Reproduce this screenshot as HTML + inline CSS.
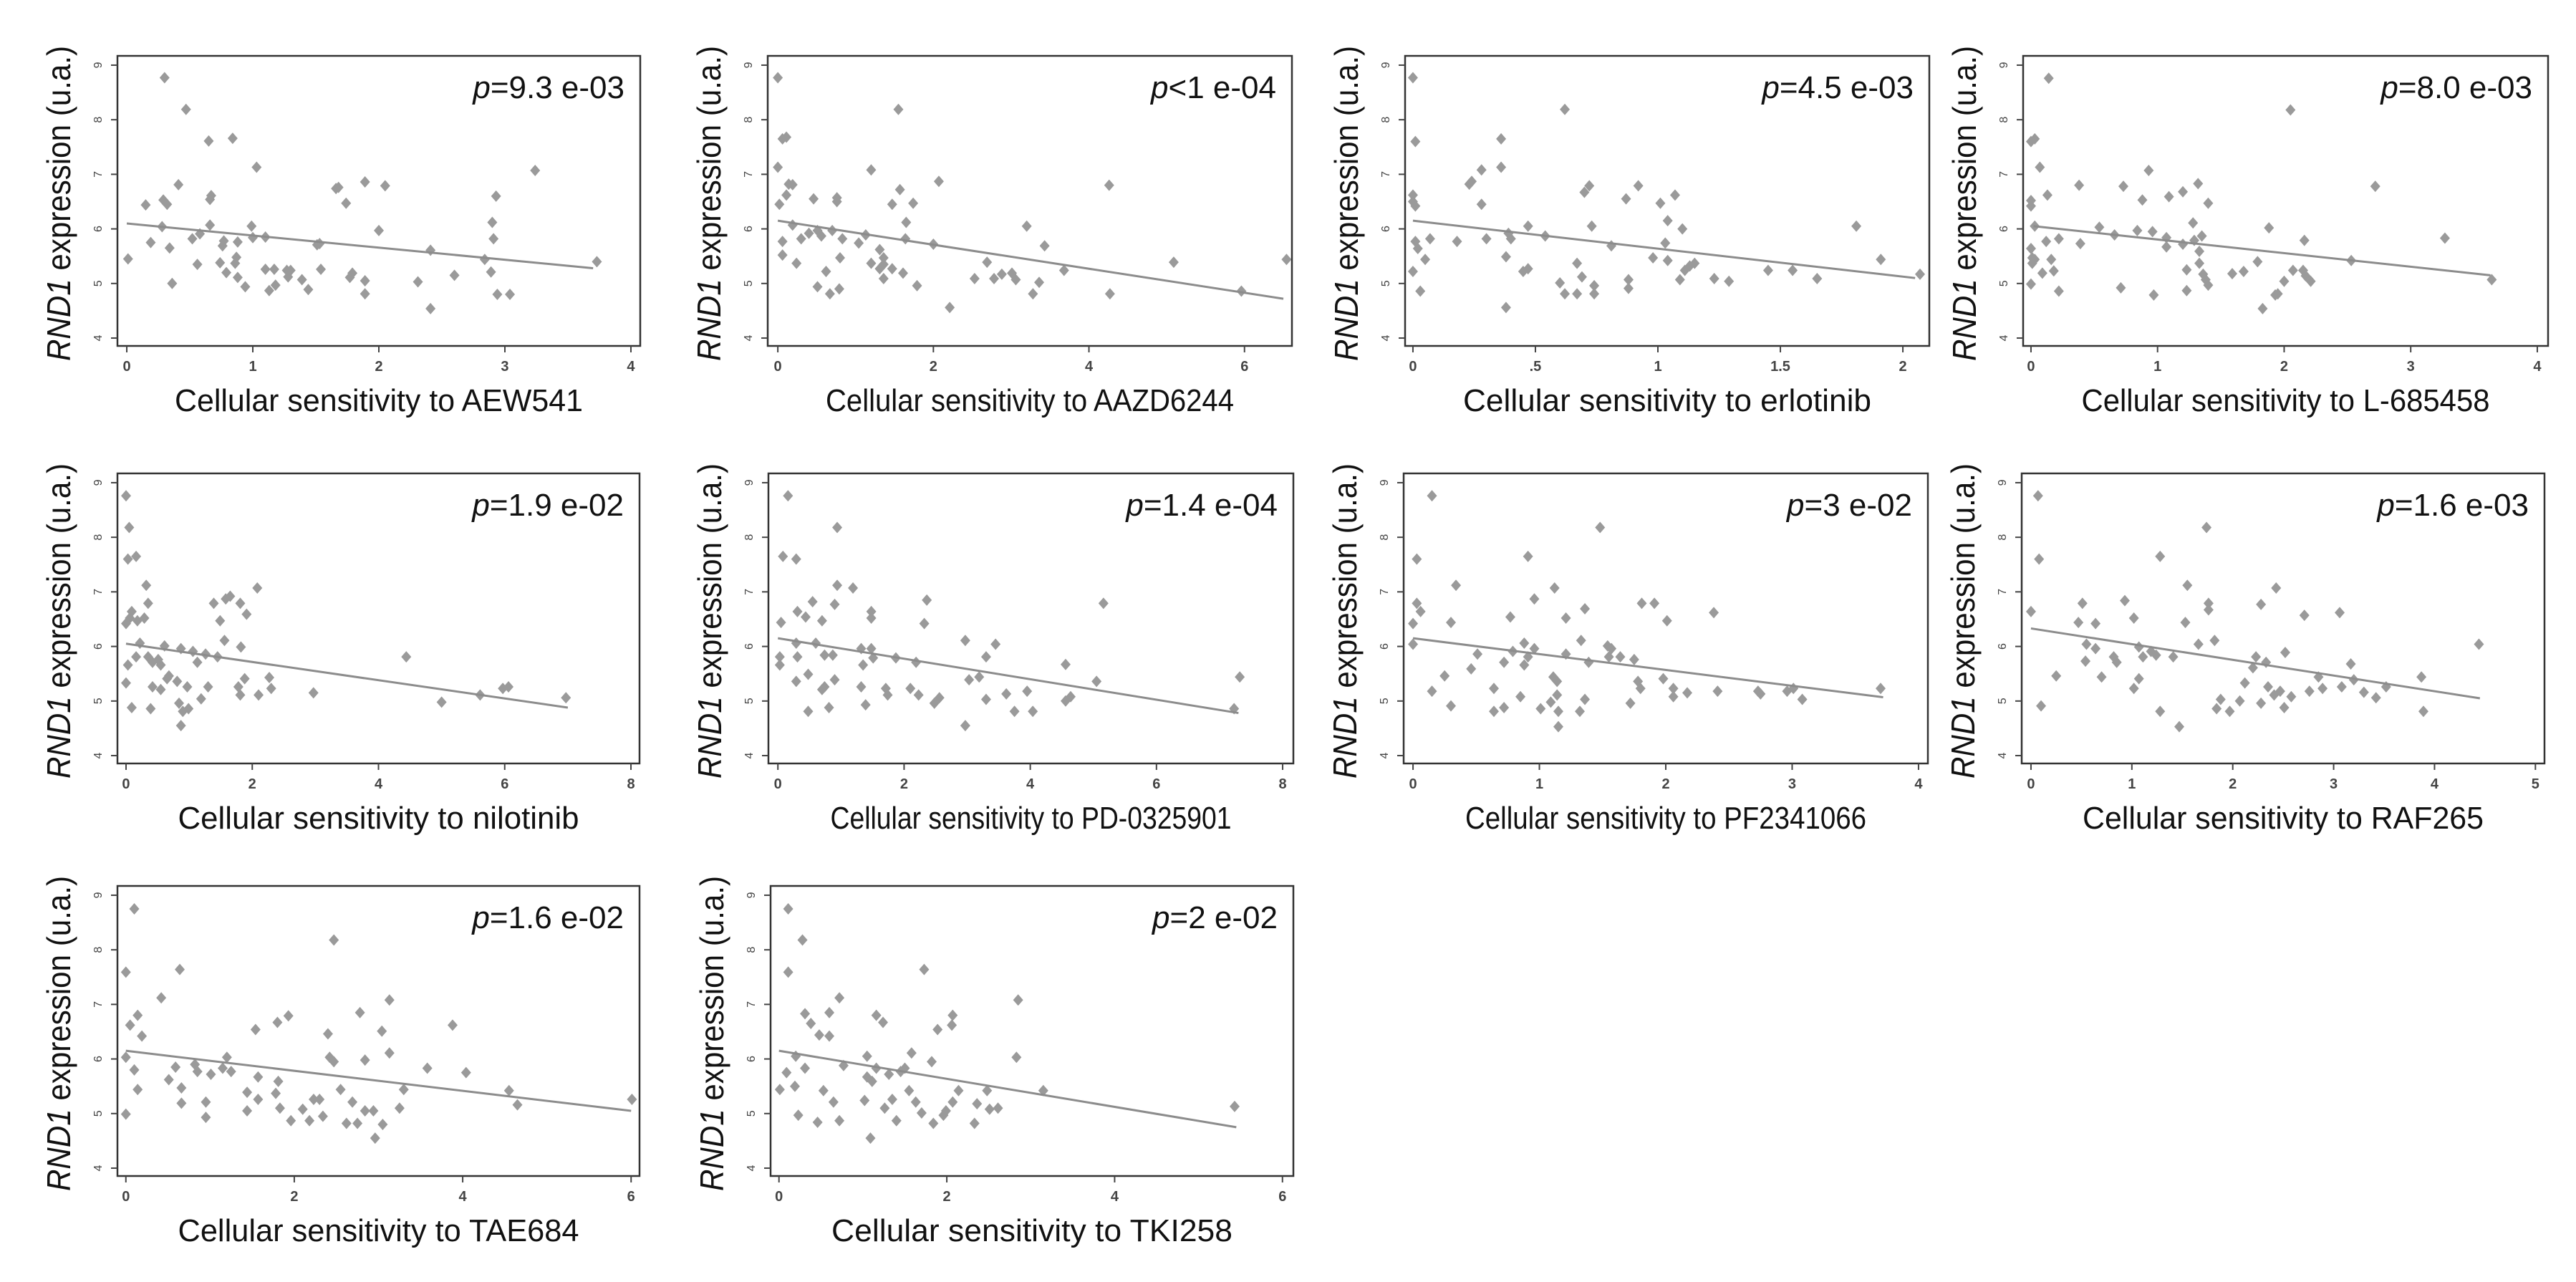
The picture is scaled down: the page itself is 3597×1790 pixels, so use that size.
<!DOCTYPE html>
<html><head><meta charset="utf-8"><style>
html,body{margin:0;padding:0;background:#fff;}
svg{display:block;font-family:"Liberation Sans",Arial,sans-serif;}
</style></head><body>
<svg id="fig" width="3597" height="1790" viewBox="0 0 3597 1790" xmlns="http://www.w3.org/2000/svg"></svg>
<script>
// ---- data ----
const drugNames = ["AEW541","AAZD6244","erlotinib","L-685458","nilotinib","PD-0325901","PF2341066","RAF265","TAE684","TKI258"];
const pLabels = ["=9.3 e-03","<1 e-04","=4.5 e-03","=8.0 e-03","=1.9 e-02","=1.4 e-04","=3 e-02","=1.6 e-03","=1.6 e-02","=2 e-02"];
const yTicks = [4,5,6,7,8,9];
const xTicks0 = [0,1,2,3,4];
const xTicks1 = [0,2,4,6];
const xTicks2 = [0,0.5,1,1.5,2];
const xTickLabels2 = ["0",".5","1","1.5","2"];
const xTicks4 = [0,2,4,6,8];
const xTicks7 = [0,1,2,3,4,5];
const fitStartX = [0,0,0,0.02,0,0,0,0,0,0];
const fitStartY = [6.1,6.15,6.15,6.05,6.05,6.15,6.15,6.33,6.15,6.15];
const fitEndX = [3.7,6.5,2.05,3.63,7,7.3,3.72,4.45,6,5.45];
const fitEndY = [5.28,4.72,5.1,5.15,4.88,4.78,5.07,5.05,5.05,4.75];
const xs1=[0.01,0.15,0.19,0.28,0.30,0.29,0.32,0.34,0.36,0.41,0.47,0.52,0.56,0.58,0.65,0.66,0.66,0.67,0.74,0.76,0.77,0.79,0.84,0.86,0.87,0.88,0.88,0.94,0.99,1.00,1.03,1.10,1.10,1.13,1.17,1.18,1.27,1.28,1.30,1.39,1.44,1.54,1.53,1.66,1.68,1.74,1.77,1.79,1.89,1.89,1.89,2.00,2.05,2.31,2.41,2.41,2.60,2.84,2.89,2.90,2.91,2.93,2.94,3.04,3.24,3.73,1.51];
const ys1=[5.45,6.44,5.75,6.04,8.77,6.53,6.45,5.65,5.00,6.81,8.19,5.82,5.35,5.91,7.61,6.07,6.54,6.61,5.38,5.69,5.78,5.20,7.66,5.37,5.48,5.76,5.11,4.94,6.05,5.84,7.13,5.85,5.26,4.87,5.26,4.97,5.24,5.12,5.24,5.07,4.89,5.26,5.73,6.74,6.76,6.47,5.11,5.19,6.86,5.05,4.81,5.97,6.79,5.03,5.61,4.54,5.15,5.44,5.21,6.12,5.82,6.60,4.80,4.80,7.07,5.40,5.71];
const xs2=[0,0.06,0.11,0,0.14,0.19,0.11,0.02,0.46,0.76,0.76,0.19,0.06,0.06,0.30,0.40,0.51,0.56,0.70,0.83,1.04,1.13,1.20,1.31,1.36,1.31,1.47,1.36,1.47,1.57,1.55,1.65,1.64,1.74,1.61,1.79,0.80,0.62,0.51,0.67,0.79,0.24,2.0,2.07,2.21,2.53,2.69,2.78,2.88,3.01,3.06,3.20,3.28,3.36,3.43,3.68,4.26,4.27,5.09,5.96,6.54,1.36,1.20];
const ys2=[8.77,7.65,7.68,7.13,6.82,6.81,6.62,6.45,6.55,6.57,6.50,6.07,5.77,5.52,5.82,5.92,5.97,5.87,5.97,5.82,5.74,5.89,7.08,5.62,5.47,5.27,5.27,5.09,6.45,6.72,8.19,6.12,5.82,6.47,5.19,4.96,5.47,5.22,4.94,4.81,4.90,5.37,5.72,6.87,4.56,5.09,5.39,5.09,5.17,5.19,5.07,6.05,4.81,5.02,5.69,5.24,6.80,4.81,5.39,4.86,5.44,5.35,5.37];
const xs3=[0,0.01,0,0,0.01,0.01,0.02,0,0.03,0.05,0.07,0.18,0.23,0.24,0.28,0.28,0.30,0.36,0.36,0.38,0.38,0.39,0.40,0.45,0.47,0.47,0.54,0.60,0.62,0.62,0.67,0.67,0.69,0.70,0.72,0.73,0.74,0.74,0.81,0.87,0.88,0.88,0.92,0.98,1.01,1.04,1.03,1.04,1.07,1.1,1.09,1.11,1.13,1.15,1.23,1.29,1.45,1.55,1.65,1.81,1.91,2.07];
const ys3=[8.77,7.60,6.62,6.50,6.42,5.77,5.64,5.22,4.86,5.44,5.82,5.77,6.82,6.87,7.08,6.45,5.82,7.65,7.13,5.49,4.56,5.92,5.82,5.22,5.27,6.05,5.87,5.01,8.19,4.81,5.37,4.81,5.12,6.67,6.79,6.05,4.96,4.81,5.69,6.55,5.07,4.91,6.79,5.47,6.47,6.15,5.74,5.42,6.62,6.0,5.07,5.24,5.32,5.37,5.09,5.04,5.24,5.24,5.09,6.05,5.44,5.17];
const xs4=[0.14,0,0.03,0.07,0.13,0,0,0.03,0.12,0.22,0,0.01,0.01,0.03,0.16,0.09,0.18,0,0.22,0.38,0.39,0.54,0.66,0.73,0.71,0.84,0.88,0.93,0.96,0.97,1.07,1.07,1.09,1.20,1.20,1.23,1.23,1.28,1.29,1.32,1.33,1.33,1.35,1.36,1.38,1.40,1.40,1.59,1.68,1.79,1.83,1.88,1.93,1.95,2.00,2.05,2.07,2.15,2.16,2.17,2.21,2.53,2.72,3.27,3.64];
const ys4=[8.76,7.60,7.65,7.13,6.62,6.52,6.42,6.05,5.77,5.82,5.64,5.47,5.37,5.44,5.44,5.19,5.23,4.99,4.86,6.80,5.73,6.03,5.89,6.78,4.92,5.97,6.53,7.07,5.95,4.79,5.84,5.67,6.59,6.68,5.72,5.25,4.87,6.11,5.79,6.83,5.59,5.37,5.87,5.17,5.07,4.97,6.47,5.18,5.22,5.40,4.54,6.02,4.79,4.81,5.04,8.18,5.24,5.24,5.79,5.14,5.04,5.42,6.78,5.83,5.07];
const xs5=[0,0.05,0.03,0.16,0.32,0.35,0,0.09,0.18,0.29,0.06,0.22,0.03,0.16,0.35,0.42,0.51,0.55,0.61,0.68,0.81,0.87,1.06,1.13,1.26,1.45,0,0.42,0.39,0.09,0.55,0.65,0.84,0.90,0.99,0.87,1.19,1.3,0.97,1.39,1.58,1.49,1.65,1.81,1.91,1.56,1.82,2.08,1.88,1.78,1.81,2.1,2.27,2.30,2.97,4.44,5.00,5.61,5.97,6.06,6.97];
const ys5=[8.76,8.18,7.60,7.65,7.12,6.79,6.42,6.64,6.47,6.52,6.52,6.06,5.66,5.81,5.81,5.71,5.76,5.66,6.01,5.46,5.36,5.96,5.91,5.71,5.86,5.81,5.33,5.26,4.86,4.88,5.21,5.41,4.96,4.81,4.86,4.55,5.04,5.26,5.26,6.79,6.87,6.47,6.92,6.79,6.59,6.11,5.99,7.07,5.41,5.26,5.11,5.11,5.43,5.23,5.15,5.81,4.98,5.11,5.23,5.26,5.06];
const xs6=[0.16,0.94,0.08,0.29,0.94,1.19,2.36,0.55,0.9,1.48,1.48,0.31,0.44,0.70,0.05,2.32,5.16,2.97,3.45,0.03,0.03,0.29,0.31,0.6,0.74,0.87,1.35,1.32,1.48,1.51,1.87,2.19,3.3,4.56,0.29,0.48,0.74,0.9,0.7,1.32,1.71,1.74,2.1,2.23,2.56,2.48,3.03,3.19,3.3,3.62,3.95,3.75,4.04,2.97,1.39,0.48,0.81,4.56,4.64,5.05,7.23,7.32];
const ys6=[8.76,8.18,7.65,7.60,7.12,7.07,6.85,6.82,6.77,6.64,6.52,6.64,6.54,6.47,6.44,6.42,6.79,6.11,6.04,5.81,5.66,6.06,5.81,6.06,5.84,5.84,5.66,5.96,5.96,5.79,5.79,5.71,5.81,5.67,5.36,5.49,5.26,5.39,5.21,5.26,5.23,5.11,5.23,5.11,5.06,4.96,5.39,5.44,5.03,5.13,5.18,4.81,4.81,4.55,4.93,4.81,4.88,5.0,5.08,5.36,4.86,5.44];
const xs7=[0.15,0.03,0.03,0.06,0,0,0.34,0.3,0.25,0.15,0.3,0.46,0.51,0.64,0.64,0.72,0.72,0.77,0.79,0.85,0.88,0.88,0.91,0.91,0.96,0.96,1.01,1.09,1.11,1.12,1.14,1.14,1.15,1.15,1.21,1.21,1.32,1.36,1.36,1.33,1.39,1.48,1.54,1.57,1.55,1.64,1.72,1.75,1.78,1.8,1.81,1.91,1.98,2.01,2.06,2.06,2.17,2.41,2.38,2.75,2.73,2.96,3.01,3.08,3.70];
const ys7=[8.76,7.60,6.79,6.64,6.42,6.04,7.12,6.44,5.46,5.18,4.91,5.59,5.86,5.23,4.81,4.88,5.71,6.54,5.91,5.08,6.06,5.66,7.65,5.81,6.87,5.96,4.86,4.98,5.44,7.07,5.36,5.11,4.81,4.53,6.52,5.86,4.81,5.03,6.69,6.11,5.71,8.18,6.01,5.96,5.81,5.81,4.96,5.76,5.36,5.23,6.79,6.79,5.41,6.47,5.08,5.23,5.15,5.18,6.62,5.13,5.18,5.18,5.23,5.03,5.23];
const xs8=[0.07,0.08,0,0.1,0.25,0.47,0.51,0.55,0.54,0.64,0.64,0.7,0.82,0.85,0.93,1.02,1.02,1.07,1.07,1.11,1.19,1.24,1.28,1.28,1.41,1.47,1.53,1.55,1.66,1.76,1.76,1.74,1.82,1.84,1.88,1.97,2.07,2.12,2.2,2.23,2.28,2.28,2.33,2.35,2.41,2.43,2.47,2.51,2.52,2.58,2.71,2.76,2.85,2.89,3.06,3.08,3.17,3.2,3.3,3.42,3.52,3.87,3.89,4.44];
const ys8=[8.76,7.60,6.64,4.91,5.46,6.44,6.79,6.04,5.73,6.42,5.96,5.44,5.81,5.71,6.84,6.52,5.23,5.41,5.99,5.81,5.91,5.84,7.65,4.81,5.81,4.53,6.44,7.12,6.04,6.79,6.67,8.18,6.11,4.86,5.03,4.81,5.0,5.33,5.61,5.81,6.77,4.96,5.71,5.26,5.11,7.07,5.18,4.88,5.89,5.08,6.57,5.18,5.44,5.23,6.62,5.26,5.68,5.39,5.16,5.06,5.26,5.44,4.81,6.04];
const xs9=[0.1,0,0.64,0.42,0.14,0.05,0.19,0,0.1,0.14,0,0.51,0.59,0.66,0.66,0.82,0.85,0.95,0.95,1.01,1.15,1.20,1.25,1.44,1.44,1.54,1.57,1.57,1.78,1.80,1.81,1.83,1.93,1.96,2.1,2.18,2.23,2.3,2.34,2.4,2.42,2.47,2.47,2.55,2.62,2.69,2.75,2.78,2.84,2.84,2.94,2.96,3.04,3.05,3.13,3.13,3.25,3.3,3.58,3.88,4.04,4.55,4.65,6.01];
const ys9=[8.75,7.59,7.64,7.12,6.80,6.62,6.42,6.03,5.80,5.44,4.99,5.62,5.85,5.47,5.19,5.90,5.77,5.21,4.93,5.72,5.83,6.03,5.77,5.39,5.05,6.54,5.67,5.26,5.37,6.67,5.59,5.10,6.79,4.87,5.08,4.87,5.26,5.26,4.95,6.46,6.03,8.18,5.95,5.44,4.82,5.21,4.82,6.85,5.98,5.05,5.05,4.55,6.51,4.8,7.08,6.11,5.10,5.44,5.83,6.62,5.75,5.42,5.16,5.26];
const xs10=[0.11,0.28,0.11,0.72,0.31,0.38,0.6,1.16,1.24,1.73,1.89,2.07,2.06,2.85,0.48,0.60,0.2,0.31,0.09,0.01,0.19,0.23,0.46,0.53,0.65,0.72,0.77,1.05,1.05,1.02,1.11,1.16,1.26,1.31,1.35,1.40,1.45,1.50,1.55,1.58,1.63,1.70,1.82,1.84,1.96,1.99,2.07,2.14,2.33,2.36,2.48,2.51,2.61,2.83,3.15,1.09,5.43];
const ys10=[8.75,8.18,7.59,7.12,6.83,6.65,6.85,6.80,6.67,7.64,6.54,6.80,6.62,7.08,6.44,6.42,6.05,5.83,5.75,5.44,5.50,4.97,4.84,5.42,5.21,4.87,5.88,6.05,5.67,5.24,5.59,5.83,5.10,5.72,5.26,4.87,5.77,5.83,5.42,6.11,5.21,5.01,5.95,4.82,4.97,5.05,5.21,5.42,4.82,5.18,5.42,5.08,5.10,6.03,5.42,4.55,5.13];
const seriesX=[xs1,xs2,xs3,xs4,xs5,xs6,xs7,xs8,xs9,xs10];
const seriesY=[ys1,ys2,ys3,ys4,ys5,ys6,ys7,ys8,ys9,ys10];

// ---- layout (not data) ----
const panels = [
 {L:164,T:78,W:730,x0:-0.074,x1:4.074,ticks:xTicks0},
 {L:1072,T:78,W:732,x0:-0.13,x1:6.61,ticks:xTicks1},
 {L:1962,T:78,W:732,x0:-0.032,x1:2.108,ticks:xTicks2,tl:xTickLabels2},
 {L:2825,T:78,W:733,x0:-0.062,x1:4.085,ticks:xTicks0},
 {L:164,T:661,W:729,x0:-0.136,x1:8.136,ticks:xTicks4},
 {L:1073,T:661,W:733,x0:-0.15,x1:8.17,ticks:xTicks4},
 {L:1960,T:661,W:732,x0:-0.074,x1:4.074,ticks:xTicks0},
 {L:2823,T:661,W:730,x0:-0.092,x1:5.09,ticks:xTicks7},
 {L:164,T:1237,W:729,x0:-0.1,x1:6.1,ticks:xTicks1},
 {L:1076,T:1237,W:730,x0:-0.1,x1:6.13,ticks:xTicks1}
];
const H=405, yMin=3.856, yMax=9.17;
const NS="http://www.w3.org/2000/svg";
const svg=document.getElementById('fig');
function mk(tag,attrs,parent){const e=document.createElementNS(NS,tag);for(const k in attrs)e.setAttribute(k,attrs[k]);parent.appendChild(e);return e;}

panels.forEach((p,i)=>{
  const g=mk('g',{},svg);
  
  
  const sx=v=>p.L+(v-p.x0)/(p.x1-p.x0)*p.W;
  const sy=v=>p.T+H-(v-yMin)/(yMax-yMin)*H;
  // points
  const pts=mk('g',{},g);
  
  
  seriesX[i].forEach((xv,j)=>{
    const cx=sx(xv), cy=sy(seriesY[i][j]);
    const d=mk('path',{d:`M${cx} ${cy-8}L${cx+7} ${cy}L${cx} ${cy+8}L${cx-7} ${cy}Z`,fill:'#9a9a9a'},pts);
    
    
  });
  // fit line
  const ln=mk('line',{x1:sx(fitStartX[i]),y1:sy(fitStartY[i]),x2:sx(fitEndX[i]),y2:sy(fitEndY[i]),stroke:'#8c8c8c','stroke-width':3},g);
  
  
  // box
  const bx=mk('rect',{x:p.L,y:p.T,width:p.W,height:H,fill:'none',stroke:'#333','stroke-width':2.5},g);
  
  
  // y ticks
  yTicks.forEach(t=>{
    const y=sy(t);
    mk('line',{x1:p.L-9,y1:y,x2:p.L,y2:y,stroke:'#444','stroke-width':2},g);
    const tx=mk('text',{x:0,y:0,transform:`translate(${p.L-22},${y}) rotate(-90)`,'text-anchor':'middle','font-size':16,fill:'#444'},g);
    tx.textContent=t;
    
    
  });
  // x ticks
  p.ticks.forEach((t,k)=>{
    const x=sx(t);
    mk('line',{x1:x,y1:p.T+H,x2:x,y2:p.T+H+9,stroke:'#444','stroke-width':2},g);
    const tx=mk('text',{x:x,y:p.T+H+35,'text-anchor':'middle','font-size':20,'font-weight':'bold',fill:'#444'},g);
    tx.textContent=p.tl?p.tl[k]:t;
    
    
  });
  // p value
  const pv=mk('text',{x:p.L+p.W-22,y:p.T+59,'text-anchor':'end','font-size':44,fill:'#111'},g);
  
  
  const pi=mk('tspan',{'font-style':'italic'},pv); pi.textContent='p';
  const pr=mk('tspan',{},pv); pr.textContent=pLabels[i];
  // x title
  const xt=mk('text',{x:p.L+p.W/2,y:p.T+H+91,'text-anchor':'middle','font-size':44,fill:'#111',textLength:(i<4?570:560),lengthAdjust:'spacingAndGlyphs'},g);
  xt.textContent='Cellular sensitivity to '+drugNames[i];
  
  
  // y title
  const yt=mk('text',{x:0,y:0,transform:`translate(${p.L-66},${p.T+206}) rotate(-90)`,'text-anchor':'middle','font-size':46,fill:'#111',textLength:440,lengthAdjust:'spacingAndGlyphs'},g);
  
  
  const y1=mk('tspan',{'font-style':'italic'},yt); y1.textContent='RND1';
  const y2=mk('tspan',{},yt); y2.textContent=' expression (u.a.)';
});
</script>
</body></html>
